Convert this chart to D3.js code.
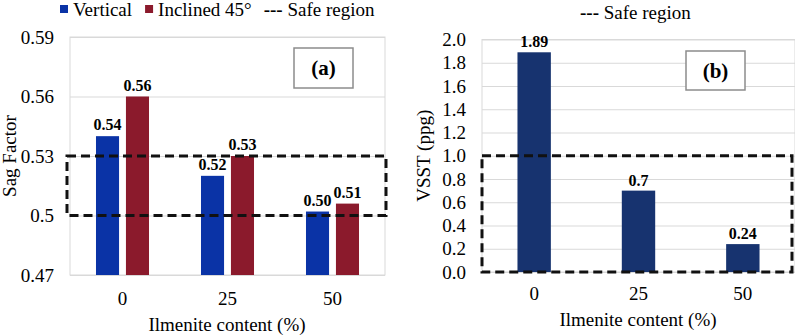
<!DOCTYPE html>
<html>
<head>
<meta charset="utf-8">
<script src="https://cdn.jsdelivr.net/npm/d3@7"></script>
<style>
  body { margin: 0; background: #fff; }
</style>
</head>
<body>
<div id="chart-container"></div>
<script>
const categories = ["0", "25", "50"];
const seriesNames = ["Vertical", "Inclined 45°"];
const verticalSag = [0.54, 0.52, 0.502];
const inclinedSag = [0.56, 0.53, 0.506];
const vsst = [1.89, 0.7, 0.24];
const sagTicks = [0.47, 0.5, 0.53, 0.56, 0.59];
const vsstTicks = [0, 0.2, 0.4, 0.6, 0.8, 1.0, 1.2, 1.4, 1.6, 1.8, 2.0];
const sagSafe = [0.50, 0.53];
const vsstSafe = [0, 1.0];

const colors = { "Vertical": "#0a33a6", "Inclined 45°": "#8b1a2c" };
const navy = "#17336f";
const gridColor = "#d9d9d9";
const serif = "'Liberation Serif', 'Times New Roman', serif";

const svg = d3.select("#chart-container").append("svg")
    .attr("width", 795)
    .attr("height", 336)
    .attr("font-family", serif)
    .style("font-family", serif);

// ---------- panel (a) ----------
const a = { left: 70, right: 385, top: 37, bottom: 275 };

const xa = d3.scaleBand()
    .domain(categories)
    .range([a.left, a.right])
    .paddingInner(0.495)
    .paddingOuter(0.2475);

const xa1 = d3.scaleBand()
    .domain(seriesNames)
    .range([0, xa.bandwidth()])
    .paddingInner(0.23);

const ya = d3.scaleLinear()
    .domain([0.47, 0.59])
    .range([a.bottom, a.top]);

const ga = svg.append("g");

ga.append("g")
    .attr("transform", `translate(${a.left},0)`)
    .call(d3.axisLeft(ya).tickValues(sagTicks).tickSize(-(a.right - a.left)).tickFormat(d => String(d)))
    .call(g => g.select(".domain").remove())
    .call(g => g.selectAll(".tick line").attr("stroke", gridColor))
    .call(g => g.selectAll(".tick text").attr("x", -16).attr("fill", "#000")
        .style("font-size", "19px").style("font-family", serif));

ga.append("rect")
    .attr("x", a.left).attr("y", a.top)
    .attr("width", a.right - a.left).attr("height", a.bottom - a.top)
    .attr("fill", "none").attr("stroke", gridColor);

const rowsA = categories.map((c, i) => ({ cat: c, vals: [
    { s: "Vertical", v: verticalSag[i] },
    { s: "Inclined 45°", v: inclinedSag[i] }
] }));

const groupsA = ga.selectAll(".grp")
    .data(rowsA)
    .enter().append("g")
    .attr("transform", d => `translate(${xa(d.cat)},0)`);

groupsA.selectAll("rect")
    .data(d => d.vals)
    .enter().append("rect")
    .attr("x", d => xa1(d.s))
    .attr("y", d => ya(d.v))
    .attr("width", xa1.bandwidth())
    .attr("height", d => ya(0.47) - ya(d.v))
    .attr("fill", d => colors[d.s]);

groupsA.selectAll("text.lbl")
    .data(d => d.vals)
    .enter().append("text")
    .attr("class", "lbl")
    .attr("x", d => xa1(d.s) + xa1.bandwidth() / 2)
    .attr("y", d => ya(d.v) - 6)
    .attr("text-anchor", "middle")
    .style("font-family", serif)
    .style("font-size", "16px")
    .style("font-weight", "bold")
    .text(d => d3.format(".2f")(d.v));

ga.append("rect")
    .attr("x", a.left - 3)
    .attr("y", ya(sagSafe[1]))
    .attr("width", a.right - a.left + 4)
    .attr("height", ya(sagSafe[0]) - ya(sagSafe[1]))
    .attr("fill", "none")
    .attr("stroke", "#111")
    .attr("stroke-width", 3)
    .attr("stroke-dasharray", "9,5");

ga.append("g")
    .selectAll("text")
    .data(categories)
    .enter().append("text")
    .attr("x", d => xa(d) + xa.bandwidth() / 2)
    .attr("y", 305)
    .attr("text-anchor", "middle")
    .style("font-family", serif)
    .style("font-size", "19px")
    .text(d => d);

ga.append("text")
    .attr("x", 227).attr("y", 331)
    .attr("text-anchor", "middle")
    .style("font-family", serif)
    .style("font-size", "19px")
    .text("Ilmenite content (%)");

ga.append("text")
    .attr("transform", `translate(16,${(a.top + a.bottom) / 2}) rotate(-90)`)
    .attr("text-anchor", "middle")
    .style("font-family", serif)
    .style("font-size", "19px")
    .text("Sag Factor");

ga.append("rect")
    .attr("x", 294).attr("y", 48).attr("width", 59).attr("height", 40)
    .attr("fill", "#fff").attr("stroke", "#8c8c8c").attr("stroke-width", 1.5);
ga.append("text")
    .attr("x", 323.5).attr("y", 75)
    .attr("text-anchor", "middle")
    .style("font-family", serif)
    .style("font-size", "21px").style("font-weight", "bold")
    .text("(a)");

// legend (a)
const legA = ga.append("g");
let lx = 60;
seriesNames.forEach(s => {
    legA.append("rect").attr("x", lx).attr("y", 5).attr("width", 8).attr("height", 8).attr("fill", colors[s]);
    const t = legA.append("text").attr("x", lx + 13).attr("y", 16)
        .style("font-family", serif).style("font-size", "19px").text(s);
    lx += 13 + t.node().getComputedTextLength() + 13;
});
const safeA = legA.append("text").attr("x", lx - 1).attr("y", 16)
    .style("font-family", serif).style("font-size", "19px");
safeA.append("tspan").style("font-weight", "bold").text("---");
safeA.append("tspan").text(" Safe region");

// ---------- panel (b) ----------
const b = { left: 482, right: 795, top: 39.5, bottom: 272 };

const xb = d3.scaleBand()
    .domain(categories)
    .range([b.left, b.right])
    .paddingInner(0.68)
    .paddingOuter(0.34);

const yb = d3.scaleLinear()
    .domain([0, 2.0])
    .range([b.bottom, b.top]);

const gb = svg.append("g");

gb.append("g")
    .attr("transform", `translate(${b.left},0)`)
    .call(d3.axisLeft(yb).tickValues(vsstTicks).tickSize(-(b.right - b.left)).tickFormat(d3.format(".1f")))
    .call(g => g.select(".domain").remove())
    .call(g => g.selectAll(".tick line").attr("stroke", gridColor))
    .call(g => g.selectAll(".tick text").attr("x", -16).attr("fill", "#000")
        .style("font-size", "19px").style("font-family", serif));

gb.append("rect")
    .attr("x", b.left).attr("y", b.top)
    .attr("width", b.right - b.left).attr("height", b.bottom - b.top)
    .attr("fill", "none").attr("stroke", gridColor);

gb.selectAll(".bar")
    .data(vsst)
    .enter().append("rect")
    .attr("class", "bar")
    .attr("x", (d, i) => xb(categories[i]))
    .attr("y", d => yb(d))
    .attr("width", xb.bandwidth())
    .attr("height", d => yb(0) - yb(d))
    .attr("fill", navy);

gb.selectAll(".lbl")
    .data(vsst)
    .enter().append("text")
    .attr("class", "lbl")
    .attr("x", (d, i) => xb(categories[i]) + xb.bandwidth() / 2)
    .attr("y", d => yb(d) - 5)
    .attr("text-anchor", "middle")
    .style("font-family", serif)
    .style("font-size", "16px")
    .style("font-weight", "bold")
    .text(d => String(d));

gb.append("rect")
    .attr("x", b.left)
    .attr("y", yb(vsstSafe[1]))
    .attr("width", 310)
    .attr("height", yb(vsstSafe[0]) - yb(vsstSafe[1]))
    .attr("fill", "none")
    .attr("stroke", "#111")
    .attr("stroke-width", 3)
    .attr("stroke-dasharray", "9,5");

gb.append("g")
    .selectAll("text")
    .data(categories)
    .enter().append("text")
    .attr("x", d => xb(d) + xb.bandwidth() / 2)
    .attr("y", 300)
    .attr("text-anchor", "middle")
    .style("font-family", serif)
    .style("font-size", "19px")
    .text(d => d);

gb.append("text")
    .attr("x", 638).attr("y", 326)
    .attr("text-anchor", "middle")
    .style("font-family", serif)
    .style("font-size", "19px")
    .text("Ilmenite content (%)");

gb.append("text")
    .attr("transform", `translate(430,${(b.top + b.bottom) / 2}) rotate(-90)`)
    .attr("text-anchor", "middle")
    .style("font-family", serif)
    .style("font-size", "19px")
    .text("VSST (ppg)");

gb.append("rect")
    .attr("x", 686).attr("y", 51).attr("width", 59).attr("height", 39)
    .attr("fill", "#fff").attr("stroke", "#8c8c8c").attr("stroke-width", 1.5);
gb.append("text")
    .attr("x", 715.5).attr("y", 78)
    .attr("text-anchor", "middle")
    .style("font-family", serif)
    .style("font-size", "21px").style("font-weight", "bold")
    .text("(b)");

const safeB = gb.append("text").attr("x", 580).attr("y", 19)
    .style("font-family", serif).style("font-size", "19px");
safeB.append("tspan").style("font-weight", "bold").text("---");
safeB.append("tspan").text(" Safe region");
</script>
</body>
</html>
